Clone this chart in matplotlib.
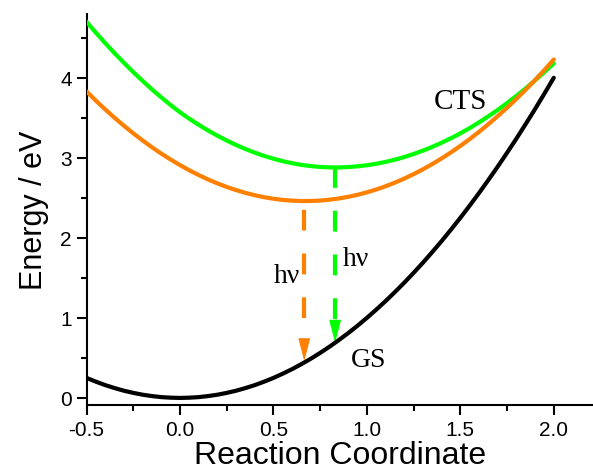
import matplotlib
matplotlib.use("Agg")
import matplotlib.pyplot as plt
from matplotlib.ticker import MultipleLocator

# Data
x = [-0.50, -0.45, -0.40, -0.35, -0.30, -0.25, -0.20, -0.15, -0.10, -0.05,
     0.00, 0.05, 0.10, 0.15, 0.20, 0.25, 0.30, 0.35, 0.40, 0.45,
     0.50, 0.55, 0.60, 0.65, 0.70, 0.75, 0.80, 0.85, 0.90, 0.95,
     1.00, 1.05, 1.10, 1.15, 1.20, 1.25, 1.30, 1.35, 1.40, 1.45,
     1.50, 1.55, 1.60, 1.65, 1.70, 1.75, 1.80, 1.85, 1.90, 1.95, 2.00]
gs = [0.250, 0.203, 0.160, 0.123, 0.090, 0.063, 0.040, 0.023, 0.010, 0.003,
      0.000, 0.003, 0.010, 0.023, 0.040, 0.063, 0.090, 0.123, 0.160, 0.203,
      0.250, 0.303, 0.360, 0.423, 0.490, 0.563, 0.640, 0.723, 0.810, 0.903,
      1.000, 1.103, 1.210, 1.323, 1.440, 1.563, 1.690, 1.823, 1.960, 2.103,
      2.250, 2.403, 2.560, 2.723, 2.890, 3.063, 3.240, 3.423, 3.610, 3.803, 4.000]
orange = [3.829, 3.714, 3.605, 3.500, 3.401, 3.306, 3.217, 3.132, 3.053, 2.978,
          2.909, 2.844, 2.785, 2.730, 2.681, 2.636, 2.597, 2.562, 2.533, 2.508,
          2.489, 2.474, 2.465, 2.460, 2.461, 2.466, 2.477, 2.492, 2.513, 2.538,
          2.569, 2.604, 2.645, 2.690, 2.741, 2.796, 2.857, 2.922, 2.993, 3.068,
          3.149, 3.234, 3.325, 3.420, 3.521, 3.626, 3.737, 3.852, 3.973, 4.098, 4.229]
green = [4.699, 4.563, 4.433, 4.307, 4.187, 4.071, 3.961, 3.855, 3.755, 3.659,
         3.569, 3.488, 3.413, 3.342, 3.277, 3.216, 3.161, 3.110, 3.065, 3.024,
         2.989, 2.958, 2.933, 2.912, 2.897, 2.886, 2.881, 2.880, 2.885, 2.894,
         2.907, 2.926, 2.949, 2.977, 3.010, 3.048, 3.090, 3.137, 3.189, 3.245,
         3.306, 3.372, 3.443, 3.519, 3.599, 3.684, 3.774, 3.868, 3.968, 4.072, 4.180]

# vertical transitions: (x, start energy, end energy)
orange_arrow = (0.665, 2.46, 0.46)
green_arrow = (0.83, 2.88, 0.69)

xticks = [-0.5, 0.0, 0.5, 1.0, 1.5, 2.0]
xticklabels = ["-0.5", "0.0", "0.5", "1.0", "1.5", "2.0"]
yticks = [0, 1, 2, 3, 4]

c_green = "#00FF00"
c_orange = "#FF8000"

plt.rcParams['font.family'] = ['Liberation Sans', 'DejaVu Sans']

fig = plt.figure(figsize=(5.93, 4.77), dpi=100)
ax = fig.add_axes([0.146, 0.149, 0.854, 0.82])

kw = dict(lw=3.0, solid_capstyle='round', solid_joinstyle='round', zorder=3)
ax.plot(x, green, color=c_green, **kw)
ax.plot(x, orange, color=c_orange, **kw)
ax.plot(x, gs, color='black', **kw)

def draw_arrow(xa, y0, y1, col, offset):
    head = 0.265
    ax.plot([xa, xa], [y0, y1 + head], color=col, lw=3.0,
            linestyle=(offset, (5.0, 5.5)), dash_capstyle='butt', zorder=2)
    ax.annotate('', xy=(xa, y1), xytext=(xa, y1 + head),
                arrowprops=dict(arrowstyle='-|>,head_length=1.45,head_width=0.38',
                                color=col, lw=0.8, shrinkA=0, shrinkB=0),
                zorder=2)

draw_arrow(*orange_arrow, c_orange, 8.4)
draw_arrow(*green_arrow, c_green, 0.0)

serif = ['Liberation Serif', 'DejaVu Serif']
ax.text(1.50, 3.71, "CTS", family=serif, fontsize=21, ha='center', va='center')
ax.text(1.01, 0.48, "GS", family=serif, fontsize=20, ha='center', va='center')
ax.text(0.57, 1.53, "hν", family=serif, fontsize=20, ha='center', va='center')
ax.text(0.94, 1.74, "hν", family=serif, fontsize=20, ha='center', va='center')

ax.set_xlim(-0.5, 2.21)
ax.set_ylim(-0.0875, 4.8)
ax.set_xticks(xticks)
ax.set_xticklabels(xticklabels)
ax.set_yticks(yticks)
ax.xaxis.set_minor_locator(MultipleLocator(0.25))
ax.yaxis.set_minor_locator(MultipleLocator(0.5))
ax.tick_params(which='major', direction='out', length=7, width=1.5, labelsize=15)
ax.tick_params(which='minor', direction='out', length=4, width=1.5)
for s in ['top', 'right']:
    ax.spines[s].set_visible(False)
for s in ['left', 'bottom']:
    ax.spines[s].set_linewidth(1.5)

ax.set_xlabel("Reaction Coordinate", fontsize=23, labelpad=1)
ax.set_ylabel("Energy / eV", fontsize=22, labelpad=8)

fig.savefig("out.png", dpi=100)
